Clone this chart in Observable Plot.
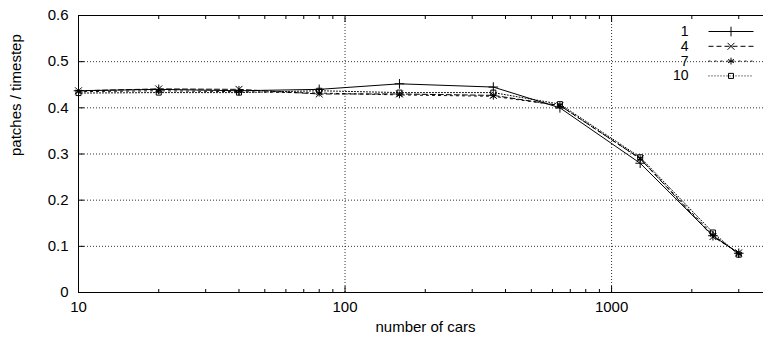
<!DOCTYPE html>
<html>
<head>
<meta charset="utf-8">
<script src="https://cdn.jsdelivr.net/npm/d3@7"></script>
<script src="https://cdn.jsdelivr.net/npm/@observablehq/plot@0.6"></script>
<style>
  html, body { margin: 0; padding: 0; background: #fff; overflow: hidden; }
  #chart { width: 763px; height: 340px; }
</style>
</head>
<body>
<div id="chart"></div>
<script>
// ---- data ----
const cars = [10, 20, 40, 80, 160, 360, 640, 1280, 2400, 3000];
const series1  = [0.437, 0.440, 0.437, 0.440, 0.452, 0.445, 0.400, 0.280, 0.123, 0.085];
const series4  = [0.437, 0.441, 0.440, 0.430, 0.430, 0.427, 0.405, 0.290, 0.121, 0.086];
const series7  = [0.435, 0.437, 0.435, 0.432, 0.428, 0.425, 0.405, 0.290, 0.125, 0.083];
const series10 = [0.432, 0.433, 0.433, 0.437, 0.433, 0.433, 0.408, 0.293, 0.130, 0.082];
const seriesNames = ["1", "4", "7", "10"];

const yTicks = [0, 0.1, 0.2, 0.3, 0.4, 0.5, 0.6];
const yTickLabels = ["0", "0.1", "0.2", "0.3", "0.4", "0.5", "0.6"];
const xMajor = [10, 100, 1000];
const xTickLabels = ["10", "100", "1000"];
const xMinor = [20, 30, 40, 50, 60, 70, 80, 90, 200, 300, 400, 500, 600, 700, 800, 900, 2000, 3000];
const yGridTicks = [0.1, 0.2, 0.3, 0.4, 0.5];
const xGridTicks = [100, 1000];

const xTitle = "number of cars";
const yTitle = "patches / timestep";

// ---- styles ----
const styles = [
  {dash: null,  symbol: "plus"},
  {dash: "5,3", symbol: "times"},
  {dash: "2,4", symbol: "asterisk"},
  {dash: "1,2", symbol: "square2"}
];

const allSeries = [series1, series4, series7, series10];
const rows = [];
allSeries.forEach((vals, si) => {
  vals.forEach((v, i) => rows.push({series: seriesNames[si], x: cars[i], y: v}));
});

const legendLine = {
  draw(ctx) { ctx.moveTo(-22.5, 0); ctx.lineTo(22.5, 0); }
};

const marks = [
  Plot.gridY(yGridTicks, {stroke: "#000", strokeOpacity: 0.8, strokeDasharray: "1,2"}),
  Plot.gridX(xGridTicks, {stroke: "#000", strokeOpacity: 0.8, strokeDasharray: "1,2"}),
  // inward ticks
  Plot.axisY(yTicks, {anchor: "left", tickSize: -6, tickFormat: () => "", label: null, stroke: "#000"}),
  Plot.axisX(xMajor, {anchor: "bottom", tickSize: -6, tickFormat: () => "", label: null, stroke: "#000"}),
  Plot.axisX(xMajor, {anchor: "top", tickSize: -6, tickFormat: () => "", label: null, stroke: "#000"}),
  Plot.axisX(xMinor, {anchor: "bottom", tickSize: -3, tickFormat: () => "", label: null, stroke: "#000"}),
  Plot.axisX(xMinor, {anchor: "top", tickSize: -3, tickFormat: () => "", label: null, stroke: "#000"}),
  // tick labels
  Plot.axisY(yTicks, {anchor: "left", tickSize: 0, tickPadding: 10, tickFormat: d => yTickLabels[yTicks.indexOf(d)], label: null, fill: "#000"}),
  Plot.axisX(xMajor, {anchor: "bottom", tickSize: 0, tickPadding: 9, tickFormat: d => xTickLabels[xMajor.indexOf(d)], label: null, fill: "#000"}),
  // frame (right side lies outside the picture)
  Plot.ruleX([10], {stroke: "#000", strokeWidth: 1}),
  Plot.ruleY([0, 0.6], {stroke: "#000", strokeWidth: 1}),
  // axis titles
  Plot.text([xTitle], {x: null, y: null, text: d => d, frameAnchor: "bottom", lineAnchor: "middle", dx: 4.5, dy: 35, fill: "#000"}),
  Plot.text([yTitle], {x: null, y: null, text: d => d, frameAnchor: "left", lineAnchor: "middle", dx: -62, dy: 2, rotate: -90, fill: "#000"})
];

seriesNames.forEach((name, si) => {
  const data = rows.filter(r => r.series === name);
  const st = styles[si];
  marks.push(Plot.line(data, {x: "x", y: "y", stroke: "#000", strokeWidth: 1, strokeDasharray: st.dash}));
  marks.push(Plot.dot(data, {x: "x", y: "y", symbol: st.symbol, r: 3.2, stroke: "#000", fill: "none", strokeWidth: 1}));
  // legend entry
  const dy = 16 + 14.8 * si;
  marks.push(Plot.text([name], {x: null, y: null, text: d => d, frameAnchor: "top-right", lineAnchor: "middle", dx: -75, dy, textAnchor: "end", fill: "#000", fontSize: 14}));
  marks.push(Plot.dot([name], {x: null, y: null, frameAnchor: "top-right", dx: -32.5, dy, symbol: legendLine, stroke: "#000", fill: "none", strokeWidth: 1, strokeDasharray: st.dash}));
  marks.push(Plot.dot([name], {x: null, y: null, frameAnchor: "top-right", dx: -32.5, dy, symbol: st.symbol, r: 3.2, stroke: "#000", fill: "none", strokeWidth: 1}));
});

const chart = Plot.plot({
  width: 763,
  height: 340,
  marginTop: 15,
  marginBottom: 48,
  marginLeft: 78,
  marginRight: 0,
  x: {type: "log", domain: [10, 3715], axis: null},
  y: {domain: [0, 0.6], axis: null},
  style: {fontFamily: "'Liberation Sans', Arial, sans-serif", fontSize: "15px", background: "#fff", color: "#000", overflow: "visible"},
  marks
});

document.getElementById("chart").appendChild(chart);
</script>
</body>
</html>
